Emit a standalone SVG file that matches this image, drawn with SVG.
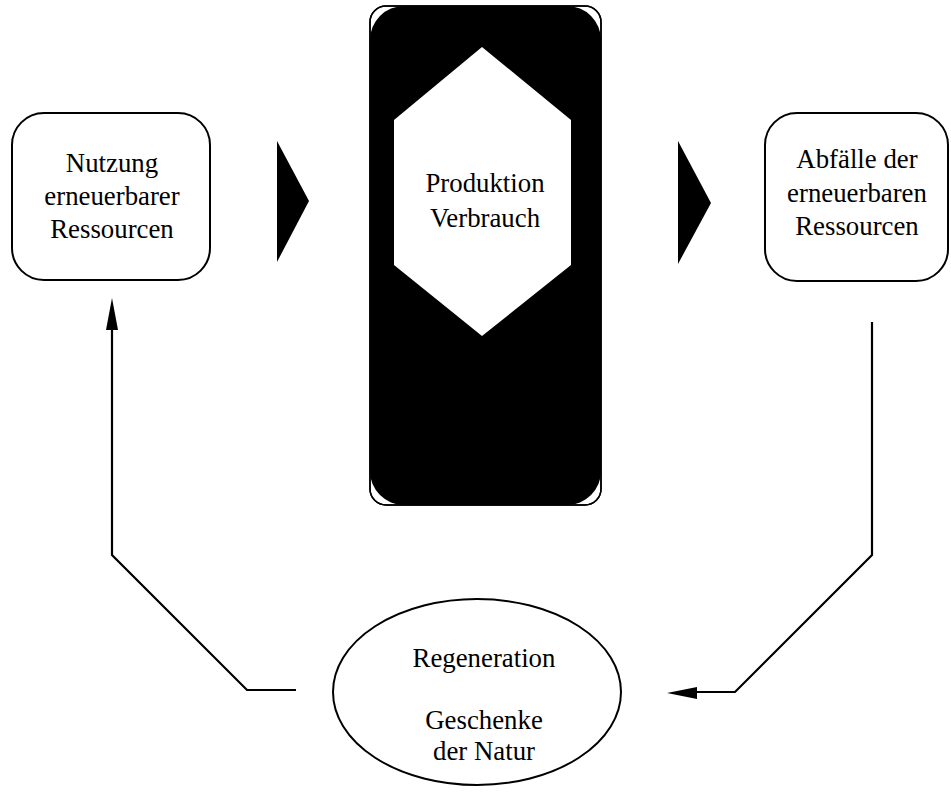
<svg xmlns="http://www.w3.org/2000/svg" width="951" height="793" viewBox="0 0 951 793">
<style>
.box{fill:#fff;stroke:#000;stroke-width:2}
.t{font-family:"Liberation Serif","Times New Roman",serif;font-size:26.8px;fill:#000;text-anchor:middle}
.c{fill:none;stroke:#000;stroke-width:2.2}
.h{fill:#000;stroke:none}
</style>
<rect width="951" height="793" fill="#fff"/>
<g id="nutzung">
<rect class="box" x="12" y="113" width="198" height="167" rx="32"/>
<text class="t" x="112" y="172">Nutzung</text>
<text class="t" x="112" y="205">erneuerbarer</text>
<text class="t" x="112" y="238">Ressourcen</text>
</g>
<g id="produktion">
<rect x="370" y="6" width="231" height="499" rx="16" fill="#fff" stroke="#000" stroke-width="1.5"/>
<rect x="370" y="6" width="231" height="499" rx="34" fill="#000"/>
<rect x="370" y="6" width="231" height="499" rx="16" fill="none" stroke="#000" stroke-width="1.5"/>
<polygon points="482,47 571,120 571,265 482,336 394,265 394,120" fill="#fff"/>
<text class="t" x="485" y="192">Produktion</text>
<text class="t" x="485" y="227">Verbrauch</text>
</g>
<g id="abfaelle">
<rect class="box" x="765" y="113" width="183" height="168" rx="32"/>
<text class="t" x="857" y="168">Abfälle der</text>
<text class="t" x="857" y="202">erneuerbaren</text>
<text class="t" x="857" y="235">Ressourcen</text>
</g>
<g id="regeneration">
<ellipse class="box" cx="477" cy="692" rx="144" ry="93"/>
<text class="t" x="484" y="667">Regeneration</text>
<text class="t" x="484" y="729">Geschenke</text>
<text class="t" x="484" y="760">der Natur</text>
</g>
<g id="connectors">
<polygon class="h" points="277,141 309,201 277,262"/>
<polygon class="h" points="678,141 711,203 678,264"/>
<polyline class="c" points="296,690 247,690 112,555 112,328"/>
<polygon class="h" points="112,298 118,330 106,330"/>
<polyline class="c" points="872,322 872,555 735,692 694,692"/>
<polygon class="h" points="667,693 697,687 697,699"/>
</g>
</svg>
